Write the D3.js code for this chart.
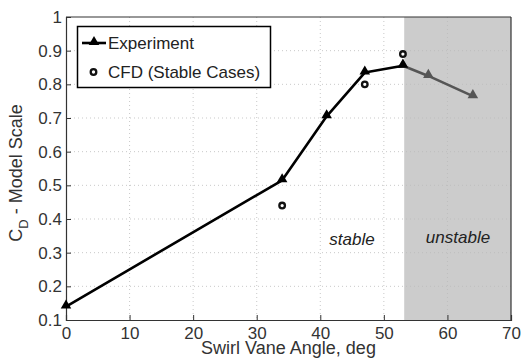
<!DOCTYPE html>
<html>
<head>
<meta charset="utf-8">
<script src="https://cdn.jsdelivr.net/npm/d3@7"></script>
<style>
body { margin: 0; background: #fff; }
text { font-family: "Liberation Sans", Arial, sans-serif; }
</style>
</head>
<body>
<svg id="chart" width="521" height="360"></svg>
<script>
// experiment, stable part (black) and unstable part (grey)
var expStableX = [0, 34, 41, 47, 53];
var expStableY = [0.14, 0.515, 0.705, 0.835, 0.855];
var expUnstableX = [53, 57, 64];
var expUnstableY = [0.855, 0.825, 0.765];
// CFD
var cfdX = [34, 47, 53];
var cfdY = [0.44, 0.80, 0.89];

var xTicks = [0, 10, 20, 30, 40, 50, 60, 70];
var yTicks = [0.1, 0.2, 0.3, 0.4, 0.5, 0.6, 0.7, 0.8, 0.9, 1];
var unstableStart = 53.2;

var svg = d3.select("#chart");
var pLeft = 66, pRight = 511, pTop = 17, pBottom = 320;

var x = d3.scaleLinear().domain([0, 70]).range([pLeft, pRight]);
var y = d3.scaleLinear().domain([0.1, 1]).range([pBottom, pTop]);

// shaded unstable region
svg.append("rect")
	.attr("x", x(unstableStart)).attr("y", pTop)
	.attr("width", x(70) - x(unstableStart)).attr("height", pBottom - pTop)
	.attr("fill", "#cccccc");

// dotted grid
svg.append("g").selectAll("line").data(xTicks.slice(1, -1)).enter().append("line")
	.attr("x1", function(d) { return x(d); }).attr("x2", function(d) { return x(d); })
	.attr("y1", pTop).attr("y2", pBottom)
	.attr("stroke", "#bbb").attr("stroke-width", 0.8).attr("stroke-dasharray", "1,3");
svg.append("g").selectAll("line").data(yTicks.slice(1, -1)).enter().append("line")
	.attr("y1", function(d) { return y(d); }).attr("y2", function(d) { return y(d); })
	.attr("x1", pLeft).attr("x2", pRight)
	.attr("stroke", "#bbb").attr("stroke-width", 0.8).attr("stroke-dasharray", "1,3");

// axes
var xAxis = svg.append("g").attr("transform", "translate(0," + pBottom + ")")
	.call(d3.axisBottom(x).tickValues(xTicks).tickSize(-5).tickPadding(7).tickFormat(d3.format("d")));
var yAxis = svg.append("g").attr("transform", "translate(" + pLeft + ",0)")
	.call(d3.axisLeft(y).tickValues(yTicks).tickSize(-5).tickPadding(4).tickFormat(function(d) { return d === 1 ? "1" : d3.format(".1f")(d); }));
[xAxis, yAxis].forEach(function(a) {
	a.select(".domain").attr("stroke", "#333").attr("stroke-width", 1.2);
	a.selectAll(".tick line").attr("stroke", "#333");
	a.selectAll("text").attr("font-size", 17).attr("fill", "#333")
		.attr("font-family", "Liberation Sans, Arial, sans-serif");
});
// top and right box edges
svg.append("line").attr("x1", pLeft).attr("x2", pRight).attr("y1", pTop).attr("y2", pTop)
	.attr("stroke", "#333").attr("stroke-width", 1.2);
svg.append("line").attr("x1", pRight).attr("x2", pRight).attr("y1", pTop).attr("y2", pBottom)
	.attr("stroke", "#333").attr("stroke-width", 1.2);

var line = d3.line().x(function(d) { return x(d[0]); }).y(function(d) { return y(d[1]); });
var tri = d3.symbol().type(d3.symbolTriangle).size(48);

function drawSeries(xs, ys, color) {
	var pts = xs.map(function(v, i) { return [v, ys[i]]; });
	svg.append("path").datum(pts).attr("d", line)
		.attr("fill", "none").attr("stroke", color).attr("stroke-width", 2.6)
		.attr("stroke-linejoin", "round");
	svg.append("g").selectAll("path").data(pts).enter().append("path")
		.attr("d", tri)
		.attr("transform", function(d) { return "translate(" + x(d[0]) + "," + (y(d[1]) - 1) + ")"; })
		.attr("fill", color);
}
drawSeries(expUnstableX, expUnstableY, "#555");
drawSeries(expStableX, expStableY, "#000");

// CFD circles
svg.append("g").selectAll("circle").data(cfdX).enter().append("circle")
	.attr("cx", function(d) { return x(d); })
	.attr("cy", function(d, i) { return y(cfdY[i]); })
	.attr("r", 2.8).attr("fill", "none").attr("stroke", "#111").attr("stroke-width", 2.3);

// region labels
svg.append("text").attr("x", 352).attr("y", 245).attr("text-anchor", "middle")
	.attr("font-size", 17).attr("font-style", "italic").attr("fill", "#222").text("stable");
svg.append("text").attr("x", 458).attr("y", 243).attr("text-anchor", "middle")
	.attr("font-size", 17).attr("font-style", "italic").attr("fill", "#222").text("unstable");

// axis labels
svg.append("text").attr("x", (pLeft + pRight) / 2).attr("y", 354).attr("text-anchor", "middle")
	.attr("font-size", 18).attr("fill", "#333").text("Swirl Vane Angle, deg");
var yl = svg.append("text").attr("transform", "translate(22,173) rotate(-90)")
	.attr("text-anchor", "middle").attr("font-size", 18).attr("fill", "#333");
yl.append("tspan").text("C");
yl.append("tspan").attr("font-size", 13).attr("dy", 6).text("D");
yl.append("tspan").attr("dy", -6).text(" - Model Scale");

// legend
var lg = svg.append("g");
lg.append("rect").attr("x", 77.5).attr("y", 26.5).attr("width", 193).attr("height", 61)
	.attr("fill", "#fff").attr("stroke", "#000").attr("stroke-width", 1.5);
lg.append("line").attr("x1", 82).attr("x2", 106).attr("y1", 43).attr("y2", 43)
	.attr("stroke", "#000").attr("stroke-width", 2.6);
lg.append("path").attr("d", tri).attr("transform", "translate(94,42)").attr("fill", "#000");
lg.append("circle").attr("cx", 93.5).attr("cy", 72).attr("r", 2.8)
	.attr("fill", "none").attr("stroke", "#111").attr("stroke-width", 2.3);
lg.append("text").attr("x", 108).attr("y", 49).attr("font-size", 17).attr("fill", "#222").text("Experiment");
lg.append("text").attr("x", 108).attr("y", 78).attr("font-size", 17).attr("fill", "#222").text("CFD (Stable Cases)");
</script>
</body>
</html>
